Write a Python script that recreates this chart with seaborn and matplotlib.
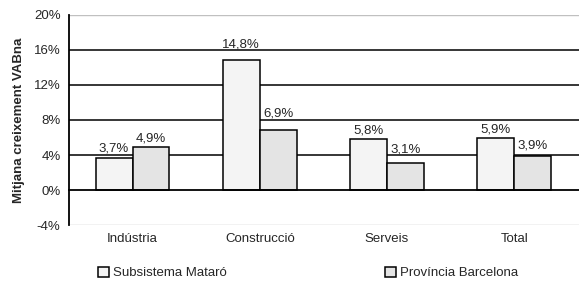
import matplotlib
matplotlib.use("Agg")
import matplotlib.pyplot as plt
import seaborn as sns
import pandas as pd
from matplotlib.patches import Patch

categories = ["Indústria", "Construcció", "Serveis", "Total"]
series = ["Subsistema Mataró", "Província Barcelona"]
mataro = [3.7, 14.8, 5.8, 5.9]
barcelona = [4.9, 6.9, 3.1, 3.9]
yticks = [-4, 0, 4, 8, 12, 16, 20]
colors = ["#f4f4f4", "#e4e4e4"]

# label offsets (points) per series, per category
label_pads = [[2, 7, 2, 2], [2, 7, 5, 3]]

sns.set_style("white")
plt.rcParams["font.family"] = ["Liberation Sans", "DejaVu Sans"]

df = pd.DataFrame({
    "cat": categories * 2,
    "serie": [series[0]] * 4 + [series[1]] * 4,
    "val": mataro + barcelona,
})

fig = plt.figure(figsize=(5.79, 2.82), dpi=100)
ax = fig.add_axes([0.119, 0.202, 0.89, 0.745])

sns.barplot(data=df, x="cat", y="val", hue="serie", palette=colors,
            width=0.58, edgecolor="black", linewidth=1.1, ax=ax,
            legend=False, zorder=3, saturation=1)

ax.set_ylim(-4, 20)
ax.set_xlim(-0.5, 3.55)
ax.set_yticks(yticks)
ax.set_yticklabels([f"{t}%" for t in yticks], fontsize=9.5)
for t in [4, 8, 12, 16]:
    ax.axhline(t, color="black", lw=1.1, zorder=1)
for t in [-4, 20]:
    ax.axhline(t, color="#c0c0c0", lw=1.0, zorder=1)

for s in ["top", "right"]:
    ax.spines[s].set_visible(False)
ax.spines["left"].set_color("black")
ax.spines["left"].set_linewidth(1.3)
ax.spines["bottom"].set_position(("data", 0))
ax.spines["bottom"].set_color("black")
ax.spines["bottom"].set_linewidth(1.3)
ax.spines["bottom"].set_zorder(5)

ax.set_xticks([0.5, 1.5, 2.5], minor=True)
ax.tick_params(axis="x", which="minor", length=4, width=1.1, color="black", direction="out")
ax.tick_params(axis="x", which="major", length=0, pad=31, labelsize=9.5)
ax.tick_params(axis="y", length=4, width=1.1, color="black", direction="out", pad=2)
ax.set_xlabel("")
ax.set_ylabel("Mitjana creixement VABna", fontsize=9.5, fontweight="bold", labelpad=6)

for cont, pads in zip(ax.containers, label_pads):
    for bar, v, p in zip(cont, cont.datavalues, pads):
        ax.annotate(f"{v:.1f}".replace(".", ",") + "%",
                    (bar.get_x() + bar.get_width() / 2, bar.get_height()),
                    xytext=(0, p), textcoords="offset points",
                    ha="center", va="bottom", fontsize=9.5)

handles = [Patch(facecolor=c, edgecolor="black", linewidth=1.1) for c in colors]
fig.legend(handles, series, loc="center", bbox_to_anchor=(0.532, 0.032), ncol=2,
           frameon=False, fontsize=9.5, handlelength=0.8, handleheight=0.8,
           handletextpad=0.3, columnspacing=12)

fig.savefig("out.png", dpi=100)
